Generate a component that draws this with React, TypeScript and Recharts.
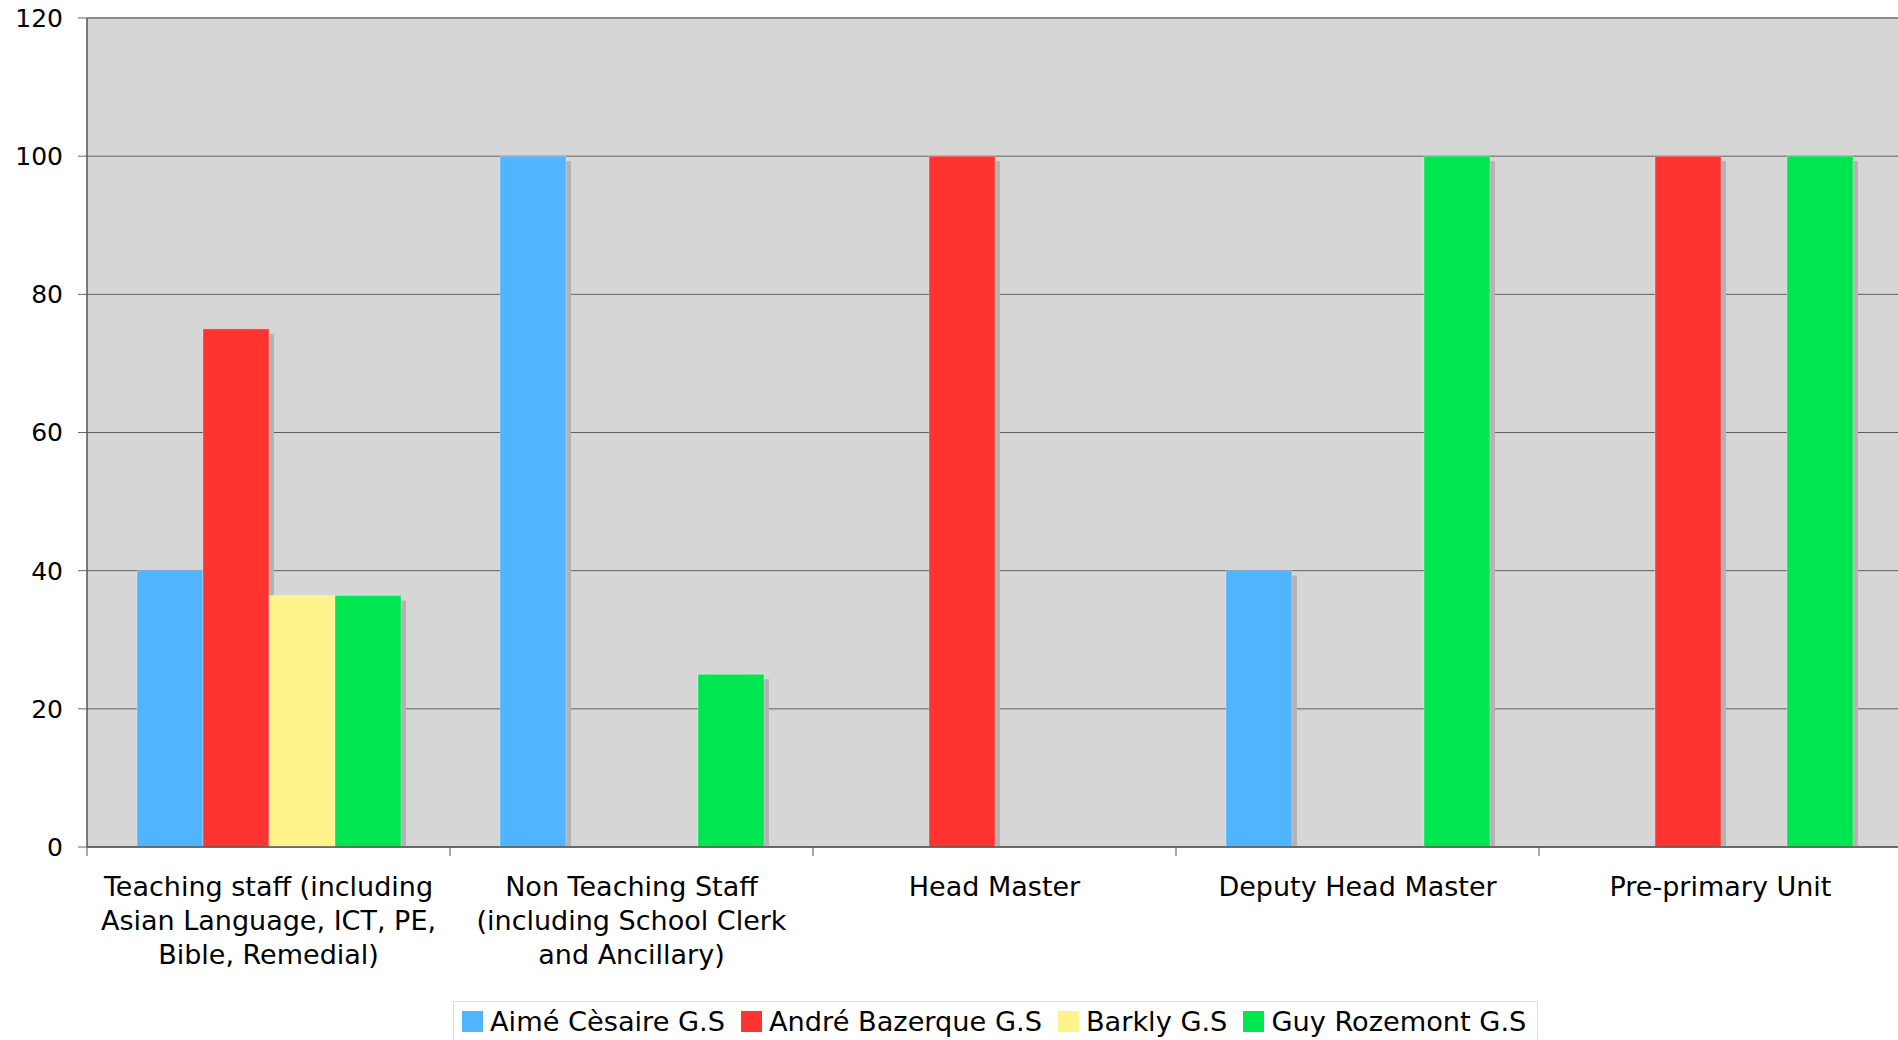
import React from "react";
import {
  BarChart,
  Bar,
  XAxis,
  YAxis,
  CartesianGrid,
  ReferenceLine,
} from "recharts";

// Staff categories (x axis) and their wrapped tick labels
const categories = [
  "Teaching staff",
  "Non Teaching Staff",
  "Head Master",
  "Deputy Head Master",
  "Pre-primary Unit",
];
const categoryLines: string[][] = [
  ["Teaching staff (including", "Asian Language, ICT, PE,", "Bible, Remedial)"],
  ["Non Teaching Staff", "(including School Clerk", "and Ancillary)"],
  ["Head Master"],
  ["Deputy Head Master"],
  ["Pre-primary Unit"],
];

// Percentages per school, null where no bar is drawn
const aimeCesaire: (number | null)[] = [40, 100, null, 40, null];
const andreBazerque: (number | null)[] = [75, null, 100, null, 100];
const barkly: (number | null)[] = [36.4, null, null, null, null];
const guyRozemont: (number | null)[] = [36.4, 25, null, 100, 100];

const yTicks = [0, 20, 40, 60, 80, 100, 120];

const seriesDefs = [
  { key: "aime", name: "Aimé Cèsaire G.S", color: "#50b4ff", values: aimeCesaire },
  { key: "andre", name: "André Bazerque G.S", color: "#ff3430", values: andreBazerque },
  { key: "barkly", name: "Barkly G.S", color: "#fff38c", values: barkly },
  { key: "guy", name: "Guy Rozemont G.S", color: "#00e650", values: guyRozemont },
];

const data = categories.map((c, i) => {
  const row: Record<string, string | number | null> = { category: c };
  seriesDefs.forEach((s) => {
    row[s.key] = s.values[i];
  });
  return row;
});

const FONT = "'DejaVu Sans', Verdana, sans-serif";
const WIDTH = 1898;
const HEIGHT = 1040;
const PLOT_LEFT = 87;
const PLOT_RIGHT = 1902;
const BAND = (PLOT_RIGHT - PLOT_LEFT) / categories.length;

// Bar with a soft grey drop shadow to the lower right
const ShadowBar = (props: any) => {
  const { x, y, width, height, fill, value } = props;
  if (value == null || !height || height <= 0) return null;
  return (
    <g>
      <rect x={x + 5} y={y + 5} width={width} height={height - 5} fill="#b3b3b3" />
      <rect
        x={x}
        y={y}
        width={width}
        height={height}
        fill={fill}
        stroke="rgba(255,255,255,0.3)"
        strokeWidth={1}
      />
    </g>
  );
};

// Multi-line category label plus a tick mark at the band's left edge
const CategoryTick = (props: any) => {
  const { x, y, index, payload } = props;
  const lines = categoryLines[index] ?? [String(payload?.value ?? "")];
  const left = x - BAND / 2;
  return (
    <g>
      <line x1={left} x2={left} y1={y} y2={y + 9} stroke="#555" strokeWidth={1} />
      <text x={x} y={y} textAnchor="middle" fontFamily={FONT} fontSize={27} fill="#000">
        {lines.map((l, i) => (
          <tspan key={i} x={x} dy={i === 0 ? 49 : 34}>
            {l}
          </tspan>
        ))}
      </text>
    </g>
  );
};

const LegendBox = () => (
  <div
    style={{
      position: "absolute",
      left: 453,
      top: 1001,
      height: 60,
      boxSizing: "border-box",
      border: "1px solid #dcdcdc",
      padding: "9px 11px 0 8px",
      display: "flex",
      alignItems: "flex-start",
      fontFamily: FONT,
      fontSize: 27.2,
      color: "#000",
      background: "#fff",
    }}
  >
    {seriesDefs.map((s, i) => (
      <div
        key={s.key}
        style={{
          display: "flex",
          alignItems: "center",
          marginRight: i === seriesDefs.length - 1 ? 0 : 16,
          height: 21,
        }}
      >
        <span
          style={{
            display: "inline-block",
            width: 21,
            height: 21,
            background: s.color,
            marginRight: 7,
          }}
        />
        <span style={{ whiteSpace: "nowrap", lineHeight: "21px" }}>{s.name}</span>
      </div>
    ))}
  </div>
);

export default function App() {
  return (
    <div
      style={{
        position: "absolute",
        left: 0,
        top: 0,
        width: WIDTH,
        height: HEIGHT,
        overflow: "hidden",
        background: "#fff",
      }}
    >
      <BarChart
        width={WIDTH}
        height={HEIGHT}
        data={data}
        margin={{ top: 18, right: WIDTH - PLOT_RIGHT, left: 0, bottom: 43 }}
        barGap={0}
        barSize={66}
      >
        <CartesianGrid
          vertical={false}
          fill="#d6d6d6"
          stroke="#5e5e5e"
          strokeWidth={1}
        />
        <ReferenceLine y={120} stroke="#8c8c8c" strokeWidth={2} />
        <XAxis
          dataKey="category"
          height={150}
          interval={0}
          tickLine={false}
          tickSize={0}
          tickMargin={0}
          axisLine={{ stroke: "#555", strokeWidth: 1.5 }}
          tick={<CategoryTick />}
        />
        <YAxis
          width={PLOT_LEFT}
          domain={[0, 120]}
          ticks={yTicks}
          interval={0}
          tickSize={9}
          tickMargin={15}
          tickLine={{ stroke: "#666" }}
          axisLine={{ stroke: "#555", strokeWidth: 1.5 }}
          tick={{ fontFamily: FONT, fontSize: 25, fill: "#000" }}
        />
        {seriesDefs.map((s) => (
          <Bar
            key={s.key}
            dataKey={s.key}
            name={s.name}
            fill={s.color}
            shape={<ShadowBar />}
            isAnimationActive={false}
          />
        ))}
      </BarChart>
      <LegendBox />
    </div>
  );
}
